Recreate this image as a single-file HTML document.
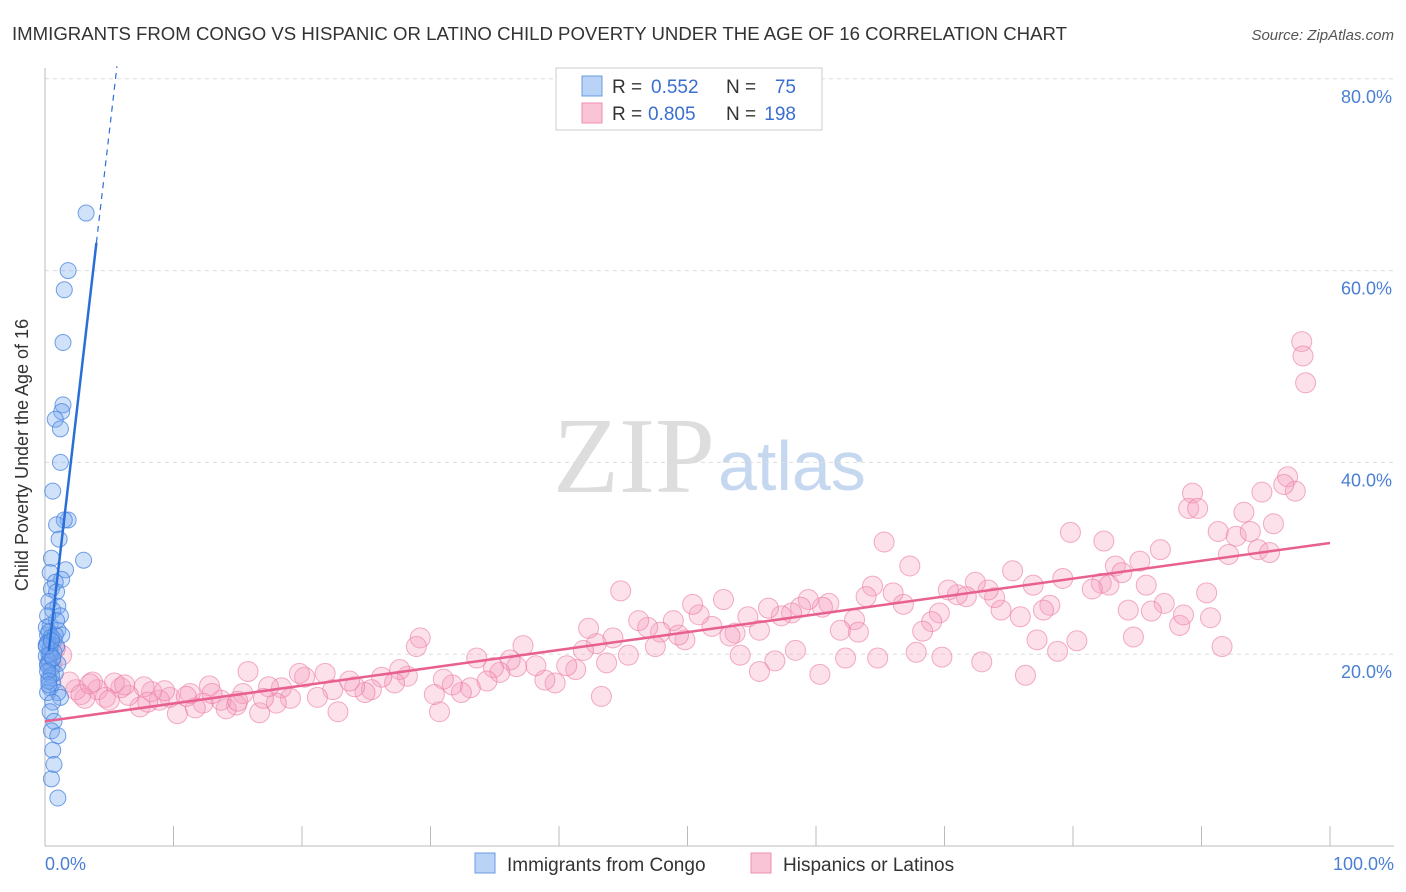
<!DOCTYPE html>
<html><head><meta charset="utf-8"><style>
body{margin:0;background:#fff;font-family:"Liberation Sans",sans-serif}
svg{display:block}
</style></head><body>
<svg id="chart" width="1406" height="892" viewBox="0 0 1406 892">
<text x="12" y="40" font-size="18" fill="#333" textLength="1055" lengthAdjust="spacingAndGlyphs">IMMIGRANTS FROM CONGO VS HISPANIC OR LATINO CHILD POVERTY UNDER THE AGE OF 16 CORRELATION CHART</text>
<text x="1394" y="40" font-size="15" fill="#555" font-style="italic" text-anchor="end">Source: ZipAtlas.com</text>
<text x="553" y="492" font-size="108" fill="#ddd" font-family="Liberation Serif,serif" textLength="162" lengthAdjust="spacingAndGlyphs">ZIP</text>
<text x="718" y="490" font-size="70" fill="#c5d8f0">atlas</text>
<g id="grid"></g>
<line x1="45" y1="68" x2="45" y2="846" stroke="#bbb"/>
<line x1="45" y1="846" x2="1394" y2="846" stroke="#bbb"/>
<text x="28" y="455" font-size="18" fill="#333" text-anchor="middle" transform="rotate(-90 28 455)">Child Poverty Under the Age of 16</text>
<text x="45" y="870" font-size="18" fill="#4a7fd4">0.0%</text>
<text x="1394" y="870" font-size="18" fill="#4a7fd4" text-anchor="end">100.0%</text>
<g id="pink"></g><g id="blue"></g><g id="lines"></g>
<g>
<rect x="556" y="68" width="266" height="62" fill="#fff" stroke="#ccc"/>
<rect x="582" y="76" width="20" height="20" fill="#b8d3f5" stroke="#6a9be0"/>
<rect x="582" y="103" width="20" height="20" fill="#f9c4d6" stroke="#ee8fb0"/>
<text x="612" y="93" font-size="19" fill="#333">R =</text>
<text x="651" y="93" font-size="19" fill="#3a6fd0">0.552</text>
<text x="726" y="93" font-size="19" fill="#333">N =</text>
<text x="796" y="93" font-size="19" fill="#3a6fd0" text-anchor="end">75</text>
<text x="612" y="120" font-size="19" fill="#333">R =</text>
<text x="648" y="120" font-size="19" fill="#3a6fd0">0.805</text>
<text x="726" y="120" font-size="19" fill="#333">N =</text>
<text x="796" y="120" font-size="19" fill="#3a6fd0" text-anchor="end">198</text>
</g>
<g>
<rect x="475" y="853" width="20" height="20" fill="#b8d3f5" stroke="#6a9be0"/>
<text x="507" y="871" font-size="19" fill="#333">Immigrants from Congo</text></g>
<g>
<rect x="751" y="853" width="20" height="20" fill="#f9c4d6" stroke="#ee8fb0"/>
<text x="783" y="871" font-size="19" fill="#333">Hispanics or Latinos</text></g>
</svg>
<script>
const yTicks=[20,40,60,80];
const xTicks=[0,10,20,30,40,50,60,70,80,90,100];
const blueX=[3.2,1.8,1.5,1.4,1.4,1.3,0.8,1.2,1.2,0.6,1.8,1.5,0.9,1.1,0.5,3,1.6,0.4,1.3,0.8,0.5,0.9,0.3,1,0.6,1.2,0.4,1,1.3,0.2,0.7,0.4,0.9,0.3,0.6,1,0.2,0.5,0.8,0.3,0.6,0.4,1,0.2,1.2,0.6,0.4,0.7,0.5,1,0.6,0.7,0.5,1,0.1,0.3,0.5,0.2,0.4,0.7,0.1,0.3,0.2,0.5,0.8,0.1,0.4,0.6,0.2,0.3,0.9,0.1,0.5,0.2,0.3];
const blueY=[66,60,58,52.5,46,45.3,44.5,43.5,40,37,34,34,33.5,32,30,29.8,28.8,28.5,27.8,27.5,26.8,26.5,25.5,25,24.6,24,23,22.5,22,22,21.5,21,20.8,20,19.5,19,19,18.5,18,17.5,17,16.5,16,16,15.5,15,14,13,12,11.5,10,8.5,7,5,22.8,22.3,21.8,21.2,20.5,20.2,19.8,19.2,18.8,17.8,22,21,20,19.6,18.2,17.2,23.5,20.8,21.4,24,16.8];
const pinkX=[97.8,97.9,98.1,96.7,97.3,96.4,94.7,93.3,95.6,91.3,92.7,93.8,89.3,89,89.7,86.8,85.2,83.3,83.8,82.2,82.8,81.5,82.4,79.8,79.2,76.9,75.3,78.2,77.7,75.9,74.4,73.9,73.4,72.4,71.7,71,70.3,69.6,69,68.3,67.3,66.8,66,65.3,64.4,63.9,63,63.3,61.9,61,60.5,59.4,58.8,58.1,57.3,56.3,55.6,54.7,53.7,53.3,52.8,51.9,50.9,50.4,49.8,49.3,48.9,47.9,47.5,46.9,46.2,45.4,44.8,44.2,43.7,42.9,42.3,41.9,41.3,40.6,39.7,38.9,38.2,37.2,36.7,36.2,35.4,34.9,34.4,33.6,33.1,32.4,31.7,31,30.7,30.3,29.2,28.9,28.2,27.6,27.2,26.2,25.4,24.9,24.1,23.7,22.8,22.4,21.8,21.2,20.2,19.8,19.1,18.4,18,17.4,16.7,15.8,15.4,14.9,14.1,13.7,12.8,12.3,11.7,11.3,10.3,9.7,8.9,8.3,7.7,7.4,6.5,5.9,5.4,4.7,4.1,3.7,3.1,2.4,1.9,1.3,0.8,0.5,90.4,90.7,91.6,92.1,94.4,95.3,88.3,87.1,86.1,85.7,84.7,84.3,80.3,78.8,77.2,76.3,72.9,69.8,67.8,64.8,62.3,60.3,58.4,56.8,55.6,54.1,43.3,88.6,2.8,3.5,5,6.2,8,9.3,11,13,15,17];
const pinkY=[52.6,51.1,48.3,38.5,37,37.7,36.9,34.8,33.6,32.8,32.3,32.8,36.8,35.2,35.2,30.9,29.7,29.2,28.5,27.4,27.2,26.8,31.8,32.7,27.9,27.2,28.7,25.1,24.6,23.9,24.6,25.9,26.7,27.5,26,26.2,26.7,24.3,23.4,22.4,29.2,25.2,26.4,31.7,27.1,26,23.6,22.3,22.5,25.3,24.9,25.7,24.9,24.3,24,24.8,22.5,23.9,22.2,21.9,25.7,22.9,24.1,25.2,21.5,22,23.5,22.3,20.8,22.8,23.5,19.9,26.6,21.7,19.1,21.1,22.7,20.4,18.4,18.8,17,17.3,18.8,20.9,18.7,19.4,18.1,18.6,17.2,19.6,16.5,16,16.8,17.4,14,15.8,21.7,20.8,17.7,18.4,17,17.6,16.3,16,16.6,17.2,14,16.3,18,15.5,17.6,18,15.4,16.5,14.9,16.6,13.9,18.2,15.9,14.7,14.3,15.2,16.7,14.9,14.4,15.9,13.8,15.5,15.2,16.1,16.6,14.5,15.7,16.5,17,15.5,16.3,17.1,15.4,16.3,17.1,19.9,20.6,18.9,26.4,23.8,20.8,30.4,30.9,30.6,23,25.3,24.5,27.2,21.8,24.6,21.4,20.3,21.5,17.8,19.2,19.7,20.2,19.6,19.6,17.9,20.4,19.3,18.2,19.9,15.6,24.1,15.8,16.9,15.2,16.8,15,16.2,15.6,15.9,15.1,15.4];
const X=v=>45+v*12.85, Y=v=>846-v*9.59;
const NS='http://www.w3.org/2000/svg';
function mk(t,a,p){const e=document.createElementNS(NS,t);for(const k in a)e.setAttribute(k,a[k]);p.appendChild(e);return e;}
const grid=document.getElementById('grid');
yTicks.forEach(t=>{
 const l=mk('line',{x1:45,x2:1394,y1:Y(t),y2:Y(t),stroke:'#ddd','stroke-dasharray':'4,4'},grid);
 
 
 const tx=mk('text',{x:1392,y:Y(t)+24,'font-size':18,fill:'#4a7fd4','text-anchor':'end'},grid);
 tx.textContent=t.toFixed(1)+'%';
 
 
});
xTicks.forEach(t=>{
 const l=mk('line',{x1:X(t),x2:X(t),y1:826,y2:846,stroke:'#bbb'},grid);
 
 
});
const pg=document.getElementById('pink');
pinkX.forEach((v,i)=>{
 const c=mk('circle',{cx:X(v),cy:Y(pinkY[i]),r:10,fill:'rgba(246,160,190,0.33)',stroke:'rgba(235,120,160,0.6)','stroke-width':1},pg);
 
 
});
const bg=document.getElementById('blue');
blueX.forEach((v,i)=>{
 const c=mk('circle',{cx:X(v),cy:Y(blueY[i]),r:8,fill:'rgba(120,170,240,0.35)',stroke:'rgba(70,130,220,0.75)','stroke-width':1},bg);
 
 
});
const lg=document.getElementById('lines');
const pl=mk('line',{x1:X(0),y1:Y(13),x2:X(100),y2:Y(31.6),stroke:'#e8608f','stroke-width':2.5},lg);


const bf=x=>16.9+11.5*x;
const bl=mk('line',{x1:X(0.3),y1:Y(bf(0.3)),x2:X(4),y2:Y(bf(4)),stroke:'#2a6fd8','stroke-width':2.5},lg);


const bd=mk('line',{x1:X(4),y1:Y(bf(4)),x2:X(5.6),y2:Y(bf(5.6)),stroke:'#2a6fd8','stroke-width':1.2,'stroke-dasharray':'6,5'},lg);


</script>
</body></html>
